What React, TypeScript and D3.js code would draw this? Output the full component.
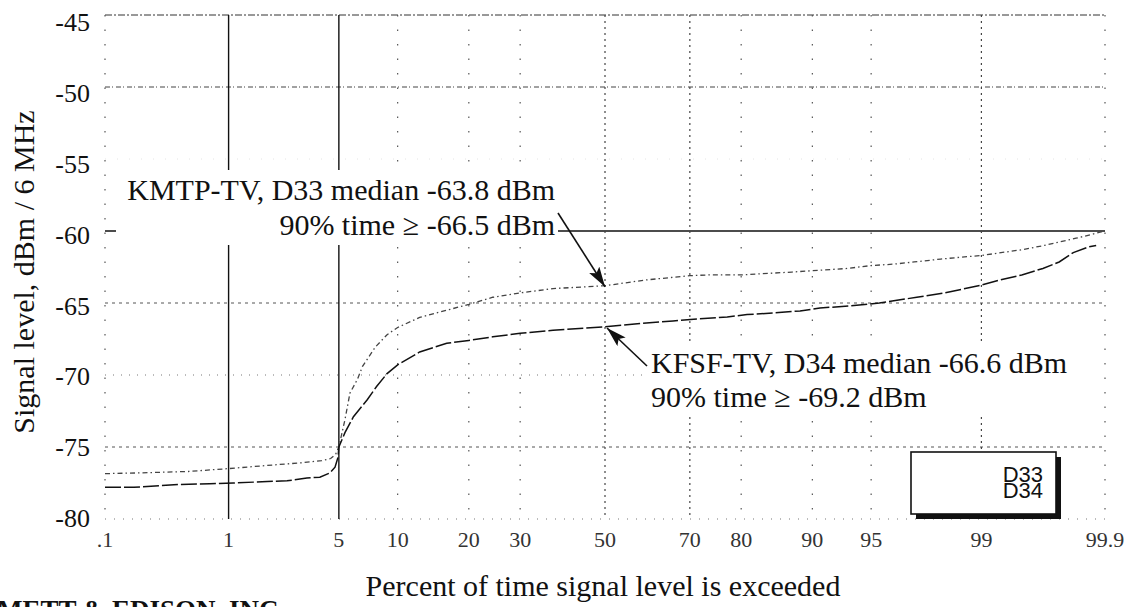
import React from 'react';
import * as d3 from 'd3';

// ---- data ----
const tickPercents = [0.1, 1, 5, 10, 20, 30, 50, 70, 80, 90, 95, 99, 99.9];
const tickLabels = ['.1', '1', '5', '10', '20', '30', '50', '70', '80', '90', '95', '99', '99.9'];
const yTicks = [-45, -50, -55, -60, -65, -70, -75, -80];

const d33Pct = [0.1, 0.2, 0.5, 1, 2, 3, 4, 4.5, 4.8, 5, 5.4, 5.75, 6.3, 6.7, 7.8, 8.9, 10, 12.6, 16.4, 20, 24.4, 30, 37.4, 50, 60, 70, 74, 80, 87.6, 93.3, 95, 96.3, 97.2, 98.1, 98.5, 99, 99.5, 99.67, 99.82, 99.85, 99.9];
const d33Lvl = [-76.85, -76.8, -76.7, -76.5, -76.25, -76.1, -75.95, -75.8, -75.5, -75.0, -73.1, -71.25, -70.3, -69.4, -68.05, -67.2, -66.7, -66.0, -65.5, -65.1, -64.6, -64.3, -64.0, -63.8, -63.4, -63.1, -63.05, -63.05, -62.85, -62.6, -62.4, -62.3, -62.15, -61.95, -61.85, -61.7, -61.3, -61.0, -60.5, -60.35, -60.0];

const d34Pct = [0.1, 0.18, 0.43, 0.73, 1.08, 1.84, 2.47, 3.27, 3.9, 4.46, 4.76, 4.95, 5, 5.4, 6, 7.1, 7.9, 8.9, 10, 12.6, 16.4, 20, 24.4, 30, 37.4, 50, 59.3, 66.3, 72.1, 77.5, 81, 85, 88.6, 90.8, 93.5, 95.5, 97.3, 98.2, 98.7, 99, 99.27, 99.5, 99.66, 99.75, 99.81, 99.86, 99.88];
const d34Lvl = [-77.8, -77.8, -77.6, -77.55, -77.5, -77.4, -77.35, -77.15, -77.1, -76.8, -76.4, -75.7, -75.0, -74.0, -72.9, -71.7, -70.8, -69.9, -69.3, -68.4, -67.8, -67.6, -67.35, -67.1, -66.9, -66.65, -66.4, -66.25, -66.1, -65.97, -65.8, -65.7, -65.55, -65.35, -65.2, -65.0, -64.6, -64.3, -64.0, -63.75, -63.4, -63.05, -62.6, -62.15, -61.5, -61.1, -61.0];

const d33Median = -63.8;
const d34Median = -66.6;
const legendNames = ['D33', 'D34'];

// ---- inverse normal CDF (Acklam) ----
function probit(p: number): number {
  const a = [-3.969683028665376e1, 2.209460984245205e2, -2.759285104469687e2, 1.38357751867269e2, -3.066479806614716e1, 2.506628277459239];
  const b = [-5.447609879822406e1, 1.615858368580409e2, -1.556989798598866e2, 6.680131188771972e1, -1.328068155288572e1];
  const c = [-7.784894002430293e-3, -3.223964580411365e-1, -2.400758277161838, -2.549732539343734, 4.374664141464968, 2.938163982698783];
  const d = [7.784695709041462e-3, 3.224671290700398e-1, 2.445134137142996, 3.754408661907416];
  const pl = 0.02425;
  if (p < pl) {
    const q = Math.sqrt(-2 * Math.log(p));
    return (((((c[0] * q + c[1]) * q + c[2]) * q + c[3]) * q + c[4]) * q + c[5]) / ((((d[0] * q + d[1]) * q + d[2]) * q + d[3]) * q + 1);
  }
  if (p > 1 - pl) {
    const q = Math.sqrt(-2 * Math.log(1 - p));
    return -(((((c[0] * q + c[1]) * q + c[2]) * q + c[3]) * q + c[4]) * q + c[5]) / ((((d[0] * q + d[1]) * q + d[2]) * q + d[3]) * q + 1);
  }
  const q = p - 0.5;
  const r = q * q;
  return (((((a[0] * r + a[1]) * r + a[2]) * r + a[3]) * r + a[4]) * r + a[5]) * q / (((((b[0] * r + b[1]) * r + b[2]) * r + b[3]) * r + b[4]) * r + 1);
}

const W = 1135;
const H = 607;
const L = 105, R = 1105, T = 15, B = 519;

const zScale = d3.scaleLinear().domain([probit(0.001), probit(0.999)]).range([L, R]);
const x = (pct: number) => zScale(probit(pct / 100));
const y = d3.scaleLinear().domain([-80, -45]).range([B, T]);

const serif = '"Liberation Serif", "Times New Roman", serif';
const sans = '"Liberation Sans", Arial, sans-serif';

const hStyle: Record<number, { stroke: string; dash: string; w: number }> = {
  [-45]: { stroke: '#333', dash: '7,2,2,2', w: 1 },
  [-50]: { stroke: '#444', dash: '5,2,1,3', w: 1 },
  [-55]: { stroke: '#ddd', dash: '1,11', w: 0.8 },
  [-60]: { stroke: '#111', dash: 'none', w: 1.6 },
  [-65]: { stroke: '#555', dash: '3,4', w: 1 },
  [-70]: { stroke: '#777', dash: '1,7', w: 1 },
  [-75]: { stroke: '#555', dash: '3,4', w: 1 },
  [-80]: { stroke: '#777', dash: '1,8', w: 1 },
};
const vStyle = (p: number) => {
  if (p === 1 || p === 5) return { stroke: '#111', dash: 'none', w: 1.4 };
  if (p === 50 || p === 70 || p === 99) return { stroke: '#444', dash: '2,4', w: 1.2 };
  return { stroke: '#555', dash: '1.5,13', w: 1.2 };
};

export default function App() {
  const line = d3.line<[number, number]>().x((d) => x(d[0])).y((d) => y(d[1])).curve(d3.curveLinear);
  const d33 = line(d33Pct.map((p, i) => [p, d33Lvl[i]] as [number, number])) || '';
  const d34 = line(d34Pct.map((p, i) => [p, d34Lvl[i]] as [number, number])) || '';

  const tip1: [number, number] = [x(50), y(d33Median) + 1];
  const tail1: [number, number] = [558, 213];
  const tip2: [number, number] = [x(50) + 2, y(d34Median) + 2];
  const tail2: [number, number] = [647, 366];

  return (
    <svg width={W} height={H} style={{ position: 'absolute', left: 0, top: 0, background: '#fff' }}>
      <defs>
        <marker id="ah" viewBox="0 0 20 12" refX="20" refY="6" markerWidth="20" markerHeight="12" markerUnits="userSpaceOnUse" orient="auto">
          <path d="M0,0 L20,6 L0,12 L4,6 Z" fill="#111" />
        </marker>
      </defs>
      <rect x={0} y={0} width={W} height={H} fill="#fff" />

      {/* horizontal grid */}
      {yTicks.map((v) => (
        <line key={'h' + v} x1={L} x2={R} y1={y(v)} y2={y(v)} stroke={hStyle[v].stroke} strokeWidth={hStyle[v].w} strokeDasharray={hStyle[v].dash} />
      ))}
      {/* vertical grid */}
      {tickPercents.map((p) => {
        const s = vStyle(p);
        return <line key={'v' + p} x1={x(p)} x2={x(p)} y1={T} y2={B} stroke={s.stroke} strokeWidth={s.w} strokeDasharray={s.dash} />;
      })}

      {/* curves */}
      <path d={d33} fill="none" stroke="#444" strokeWidth={1.3} strokeDasharray="5,3,1.5,3" />
      <path d={d34} fill="none" stroke="#111" strokeWidth={1.5} strokeDasharray="16,3" />

      {/* annotation 1 */}
      <rect x={116} y={170} width={442} height={75} fill="#fff" />
      <text x={555} y={200} textAnchor="end" fontFamily={serif} fontSize={30} fill="#111">KMTP-TV, D33 median -63.8 dBm</text>
      <text x={555} y={235} textAnchor="end" fontFamily={serif} fontSize={30} fill="#111">90% time ≥ -66.5 dBm</text>
      <line x1={tail1[0]} y1={tail1[1]} x2={tip1[0]} y2={tip1[1]} stroke="#111" strokeWidth={1.6} markerEnd="url(#ah)" />

      {/* annotation 2 */}
      <rect x={645} y={343} width={455} height={71} fill="#fff" />
      <text x={651} y={373} fontFamily={serif} fontSize={30} fill="#111">KFSF-TV, D34 median -66.6 dBm</text>
      <text x={651} y={407} fontFamily={serif} fontSize={30} fill="#111">90% time ≥ -69.2 dBm</text>
      <line x1={tail2[0]} y1={tail2[1]} x2={tip2[0]} y2={tip2[1]} stroke="#111" strokeWidth={1.6} markerEnd="url(#ah)" />

      {/* legend */}
      <rect x={916} y={457} width={145} height={62} fill="#111" />
      <rect x={911} y={452} width={145} height={62} fill="#fff" stroke="#111" strokeWidth={1.6} />
      {legendNames.map((n, i) => (
        <text key={n} x={1043} y={482 + i * 16} textAnchor="end" fontFamily={sans} fontSize={22} fill="#111">{n}</text>
      ))}

      {/* y tick labels */}
      {yTicks.map((v) => (
        <text key={'yl' + v} x={90} y={y(v) + 7 - 8 * ((-45 - v) / 35)} dy="0.35em" textAnchor="end" fontFamily={serif} fontSize={26} fill="#111">{v}</text>
      ))}
      {/* x tick labels */}
      {tickPercents.map((p, i) => (
        <text key={'xl' + p} x={x(p)} y={547} textAnchor="middle" fontFamily={serif} fontSize={22} fill="#333">{tickLabels[i]}</text>
      ))}

      {/* axis titles */}
      <text transform="translate(34,272) rotate(-90)" textAnchor="middle" fontFamily={serif} fontSize={30} fill="#111">Signal level, dBm / 6 MHz</text>
      <text x={603} y={596} textAnchor="middle" fontFamily={serif} fontSize={30} fill="#111">Percent of time signal level is exceeded</text>

      {/* footer (cut off) */}
      <text x={-3} y={619} fontFamily={serif} fontSize={27} fontWeight="bold" fill="#111" style={{ fontVariant: 'small-caps' }}>METT &amp; EDISON, INC</text>
    </svg>
  );
}
